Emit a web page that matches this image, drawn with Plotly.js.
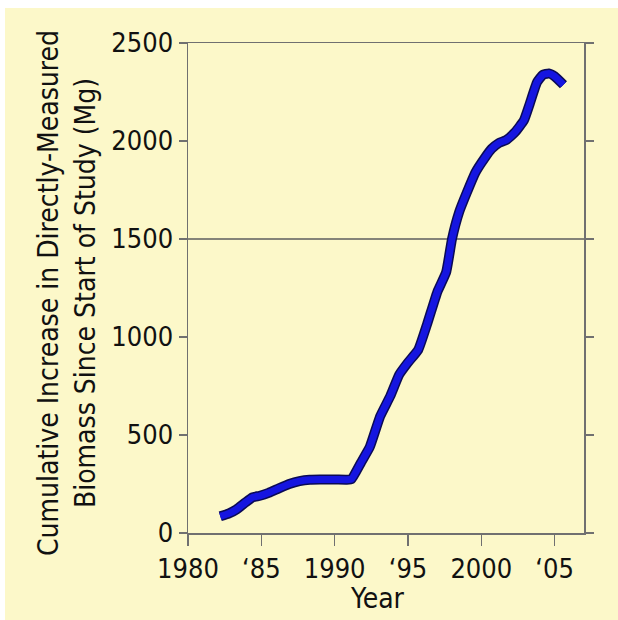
<!DOCTYPE html>
<html>
<head>
<meta charset="utf-8">
<script src="https://cdn.plot.ly/plotly-3.0.1.min.js"></script>
<style>
html,body{margin:0;padding:0;background:#ffffff;}
#chart{position:absolute;left:5px;top:8px;width:613px;height:612px;}
</style>
</head>
<body>
<div id="chart"></div>
<script>
var years = [1982.2, 1982.8, 1983.3, 1983.9, 1984.4, 1984.9, 1985.5, 1986.2, 1986.9, 1987.6, 1988.3, 1989.0, 1990.0, 1990.8, 1991.15, 1991.8, 1992.4, 1993.1, 1993.8, 1994.4, 1995.0, 1995.7, 1996.3, 1997.0, 1997.6, 1998.0, 1998.5, 1999.0, 1999.6, 2000.2, 2000.7, 2001.2, 2001.7, 2002.3, 2002.9, 2003.3, 2003.8, 2004.2, 2004.6, 2005.0, 2005.6];
var biomass = [85, 100, 120, 155, 182, 190, 205, 228, 250, 265, 272, 273, 273, 272, 275, 360, 440, 595, 700, 808, 870, 935, 1065, 1230, 1330, 1500, 1640, 1735, 1840, 1910, 1960, 1990, 2005, 2045, 2105, 2190, 2300, 2338, 2345, 2330, 2287];
var xTickVals = [1980, 1985, 1990, 1995, 2000, 2005];
var xTickText = ['1980', '\u201885', '1990', '\u201895', '2000', '\u201805'];
var yTickVals = [0, 500, 1000, 1500, 2000, 2500];
var yTitle = 'Cumulative Increase in Directly-Measured<br>Biomass Since Start of Study (Mg)';
var xTitle = 'Year';

var FONT = '"DejaVu Sans Condensed", "DejaVu Sans", "Liberation Sans", sans-serif';
var AX = '#707070';

var traces = [
  {x: years, y: biomass, type: 'scatter', mode: 'lines', hoverinfo: 'skip',
   line: {color: '#0a0a55', width: 10, shape: 'spline', smoothing: 0.4}},
  {x: years, y: biomass, type: 'scatter', mode: 'lines',
   line: {color: '#1515e0', width: 7, shape: 'spline', smoothing: 0.4}}
];

var layout = {
  width: 613, height: 612,
  paper_bgcolor: '#fcf8c9', plot_bgcolor: '#fcf8c9',
  showlegend: false,
  margin: {l: 183, r: 34, t: 35, b: 87},
  font: {family: FONT, size: 27, color: '#111111'},
  xaxis: {
    range: [1980, 2007], tickvals: xTickVals, ticktext: xTickText,
    ticks: 'outside', ticklen: 11, tickwidth: 1.5, tickcolor: AX,
    showline: true, linecolor: AX, linewidth: 1.5, mirror: true,
    showgrid: false, zeroline: false, fixedrange: true,
    tickfont: {family: FONT, size: 27, color: '#111111'}
  },
  yaxis: {
    range: [0, 2500], tickvals: yTickVals,
    ticks: 'outside', ticklen: 8, tickwidth: 1.5, tickcolor: AX,
    showline: true, linecolor: AX, linewidth: 1.5, mirror: 'ticks',
    showgrid: false, zeroline: false, fixedrange: true,
    tickfont: {family: FONT, size: 27, color: '#111111'}
  },
  shapes: [
    {type: 'line', xref: 'paper', yref: 'y', x0: 0, x1: 1, y0: 1500, y1: 1500,
     line: {color: '#5e5e5e', width: 1.5}, layer: 'below'}
  ],
  annotations: [
    {text: yTitle, xref: 'paper', yref: 'paper', x: -0.305, y: 0.49,
     xanchor: 'center', yanchor: 'middle', textangle: -90, showarrow: false,
     font: {family: FONT, size: 28, color: '#111111'}},
    {text: xTitle, xref: 'paper', yref: 'paper', x: 0.4785, y: -0.133,
     xanchor: 'center', yanchor: 'middle', showarrow: false,
     font: {family: FONT, size: 28, color: '#111111'}}
  ]
};

Plotly.newPlot('chart', traces, layout, {displayModeBar: false, staticPlot: true});
</script>
</body>
</html>
